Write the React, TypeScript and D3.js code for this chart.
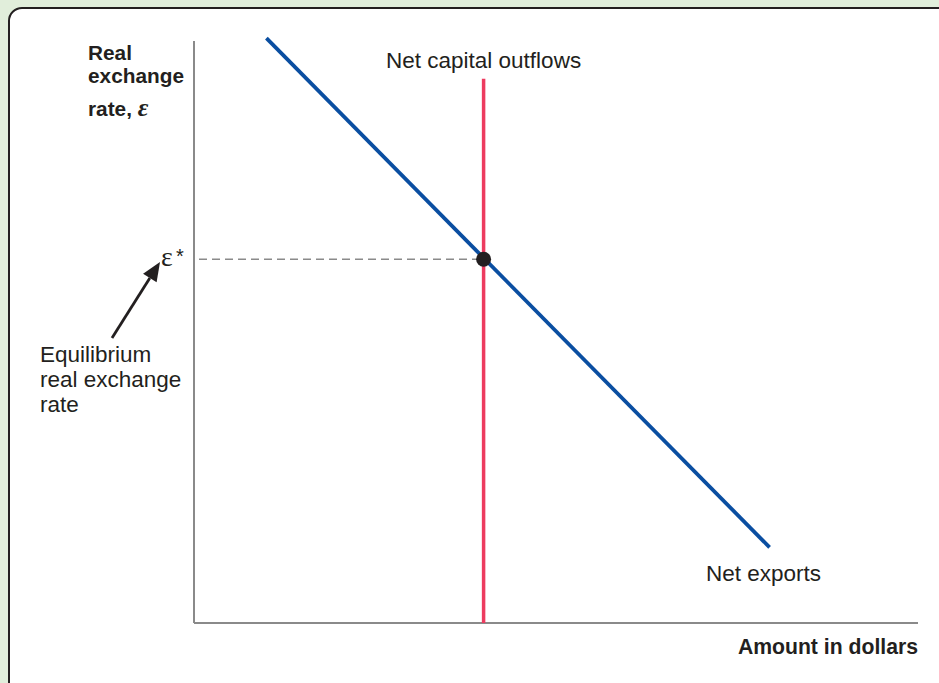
import React from "react";
import * as d3 from "d3";

// Data (in abstract chart units, x: amount in dollars, y: real exchange rate)
const xDomain = [0, 10];
const yDomain = [0, 10];
const netExportsX = [1.0, 7.95];
const netExportsY = [10.05, 1.3];
const ncoX = [4.0, 4.0];
const ncoY = [0, 9.35];
const equilibriumX = [4.0];
const equilibriumY = [6.25];
const yAxisTitle = ["Real", "exchange", "rate, "];
const eqLabel = ["Equilibrium", "real exchange", "rate"];

const W = 939;
const H = 683;
const FONT = "'Liberation Sans', Arial, Helvetica, sans-serif";
const SERIF = "'Liberation Serif', 'DejaVu Serif', serif";

export default function App() {
  const x = d3.scaleLinear().domain(xDomain).range([194, 918]);
  const y = d3.scaleLinear().domain(yDomain).range([623, 41]);
  const line = d3
    .line<[number, number]>()
    .x((d) => x(d[0]))
    .y((d) => y(d[1]));
  const ne: [number, number][] = netExportsX.map((v, i) => [v, netExportsY[i]]);
  const nco: [number, number][] = ncoX.map((v, i) => [v, ncoY[i]]);
  const ex = x(equilibriumX[0]);
  const ey = y(equilibriumY[0]);

  // arrow from label up to epsilon*
  const ax1 = 112, ay1 = 338, ax2 = 160, ay2 = 262;
  const ang = Math.atan2(ay2 - ay1, ax2 - ax1);
  const headLen = 19, headW = 8;
  const bx = ax2 - headLen * Math.cos(ang);
  const by = ay2 - headLen * Math.sin(ang);
  const px = -Math.sin(ang), py = Math.cos(ang);

  return (
    <svg
      width={W}
      height={H}
      style={{ position: "fixed", left: 0, top: 0, display: "block" }}
      fontFamily={FONT}
    >
      <rect x={0} y={0} width={W} height={H} fill="#e1eedb" />
      <rect x={9} y={8} width={W + 40} height={H + 40} rx={13} fill="#ffffff" stroke="#231f20" strokeWidth={2} />

      {/* axes */}
      <line x1={x(0)} y1={y(10)} x2={x(0)} y2={y(0)} stroke="#8a8a8a" strokeWidth={2} />
      <line x1={x(0)} y1={y(0)} x2={x(10)} y2={y(0)} stroke="#8a8a8a" strokeWidth={2} />

      {/* dashed equilibrium line */}
      <line x1={x(0) + 5} y1={ey} x2={ex} y2={ey} stroke="#8a8a8a" strokeWidth={1.6} strokeDasharray="8,5" />

      {/* net capital outflows */}
      <path d={line(nco) || ""} stroke="#ed3b5f" strokeWidth={3.5} fill="none" />
      {/* net exports */}
      <path d={line(ne) || ""} stroke="#0a4ea1" strokeWidth={3.8} fill="none" />

      <circle cx={ex} cy={ey} r={7.5} fill="#231f20" />

      {/* y-axis title */}
      <g fontWeight="bold" fontSize={20.8} fill="#231f20">
        <text x={88} y={60}>{yAxisTitle[0]}</text>
        <text x={88} y={83}>{yAxisTitle[1]}</text>
        <text x={88} y={116}>
          {yAxisTitle[2]}
          <tspan fontFamily={SERIF} fontStyle="italic" fontSize={26}>{"\u03B5"}</tspan>
        </text>
      </g>
      <text x={918} y={654} textAnchor="end" fontWeight="bold" fontSize={21.2} fill="#231f20">
        Amount in dollars
      </text>

      <text x={ex} y={68} textAnchor="middle" fontSize={22.5} fill="#231f20">
        Net capital outflows
      </text>
      <text x={706} y={581} fontSize={22.5} fill="#231f20">
        Net exports
      </text>

      {/* epsilon star */}
      <text x={161} y={266} fontSize={28} fill="#231f20" fontFamily={SERIF}>
        {"\u03B5"}
      </text>
      <text x={176} y={263} fontSize={20} fill="#231f20">*</text>

      {/* arrow */}
      <line x1={ax1} y1={ay1} x2={bx} y2={by} stroke="#231f20" strokeWidth={2.8} />
      <polygon
        points={`${ax2},${ay2} ${bx + px * headW},${by + py * headW} ${bx - px * headW},${by - py * headW}`}
        fill="#231f20"
      />

      <g fontSize={22.5} fill="#231f20">
        <text x={40} y={362}>{eqLabel[0]}</text>
        <text x={40} y={387}>{eqLabel[1]}</text>
        <text x={40} y={412}>{eqLabel[2]}</text>
      </g>
    </svg>
  );
}
